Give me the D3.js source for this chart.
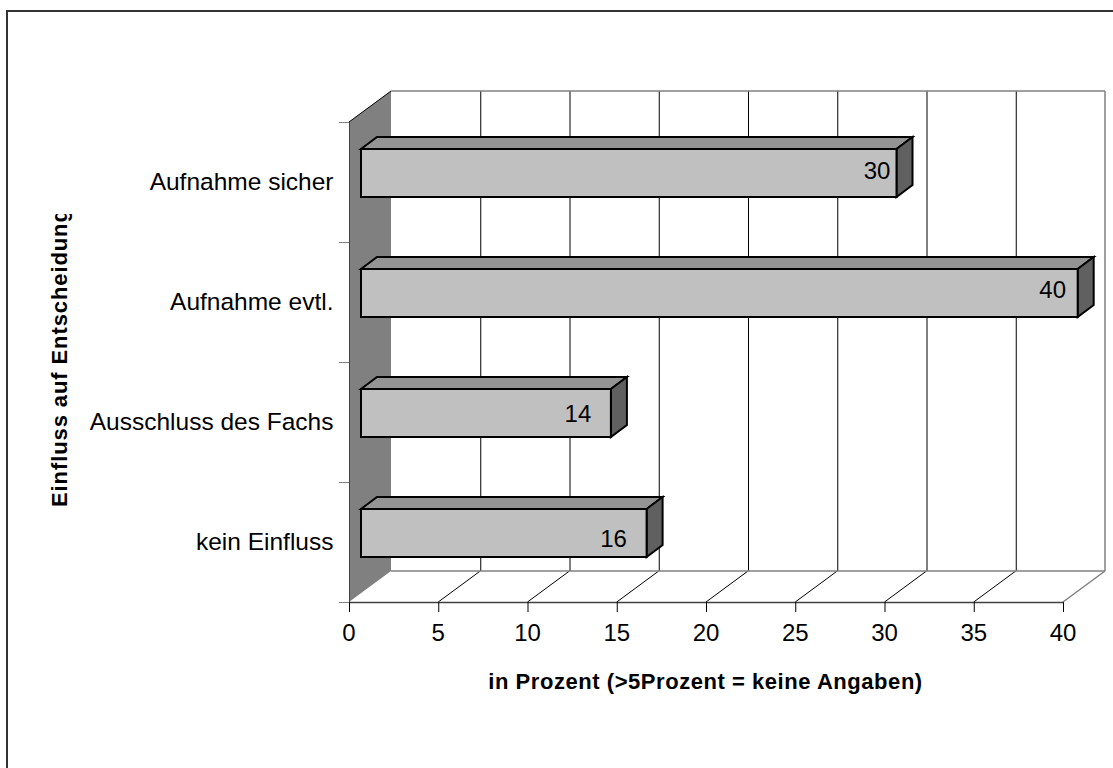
<!DOCTYPE html>
<html>
<head>
<meta charset="utf-8">
<script src="https://cdn.jsdelivr.net/npm/d3@7"></script>
<style>
    html, body { margin: 0; padding: 0; background: #fff; overflow: hidden; }
    svg { display: block; }
    text { font-family: "Liberation Sans", Arial, sans-serif; fill: #000; }
</style>
</head>
<body>
<svg id="chart" width="1113" height="768"></svg>
<script>
// Werte (der Balken "Aufnahme evtl." ist minimal laenger als 40)
const categories = ["Aufnahme sicher", "Aufnahme evtl.", "Ausschluss des Fachs", "kein Einfluss"];
const values = [30, 40.15, 14, 16];
const xTicks = [0, 5, 10, 15, 20, 25, 30, 35, 40];
const xTitle = "in Prozent (>5Prozent = keine Angaben)";
const yTitle = "Einfluss auf Entscheidung";

// Position der Balkenbeschriftung relativ zum Balkenende / zur Oberkante
const labelDx = [-19.5, -25, -33, -33];
const labelDy = [30, 29, 33, 38];

const svg = d3.select("#chart");

// Vorderkante des Diagramms und 3D-Versatz
const x = d3.scaleLinear().domain([0, 40]).range([349, 1063]);
const y = d3.scaleBand().domain(categories).range([122, 602]);
const depthX = 42, depthY = -31;
const barFrontX = 12, barFrontY = -9, barBackX = 28, barBackY = -21;
const barHeight = 48;
const yBottom = y.range()[1], yTop = y.range()[0];

// Rahmen (nur oben und links sichtbar)
svg.append("path")
    .attr("d", "M7,768V11H1113")
    .attr("fill", "none").attr("stroke", "#333").attr("stroke-width", 2);

// Seitenwand
svg.append("polygon")
    .attr("points", [
        [x(0), yTop], [x(0) + depthX, yTop + depthY],
        [x(0) + depthX, yBottom + depthY], [x(0), yBottom]
    ].join(" "))
    .attr("fill", "#808080");

// Gitterlinien Rueckwand
svg.append("g").selectAll("line")
    .data(xTicks.slice(1, -1))
    .enter().append("line")
    .attr("x1", d => x(d) + depthX + 0.5).attr("x2", d => x(d) + depthX + 0.5)
    .attr("y1", yTop + depthY).attr("y2", yBottom + depthY)
    .attr("stroke", "#000");

// Bodenlinien
svg.append("g").selectAll("line")
    .data(xTicks.slice(1, -1))
    .enter().append("line")
    .attr("x1", d => x(d)).attr("x2", d => x(d) + depthX)
    .attr("y1", yBottom).attr("y2", yBottom + depthY)
    .attr("stroke", "#000");

// graue Kanten der Rueckwand
const gray = "#808080";
const edges = [
    [x(0) + depthX, yTop + depthY, x(40) + depthX, yTop + depthY],
    [x(0) + depthX, yBottom + depthY, x(40) + depthX, yBottom + depthY],
    [x(40) + depthX, yTop + depthY, x(40) + depthX, yBottom + depthY],
    [x(40), yBottom, x(40) + depthX, yBottom + depthY]
];
svg.append("g").selectAll("line")
    .data(edges)
    .enter().append("line")
    .attr("x1", d => d[0]).attr("y1", d => d[1])
    .attr("x2", d => d[2]).attr("y2", d => d[3])
    .attr("stroke", gray).attr("stroke-width", 1.5);

// obere Kante der Seitenwand
svg.append("line")
    .attr("x1", x(0)).attr("y1", yTop)
    .attr("x2", x(0) + depthX).attr("y2", yTop + depthY)
    .attr("stroke", "#000");

// Y-Achse
const yAxisG = svg.append("g");
yAxisG.append("line")
    .attr("x1", x(0) + 0.5).attr("x2", x(0) + 0.5)
    .attr("y1", yTop).attr("y2", yBottom)
    .attr("stroke", "#404040");
yAxisG.selectAll("line.tick")
    .data(categories.concat([null]))
    .enter().append("line")
    .attr("class", "tick")
    .attr("x1", x(0) - 10).attr("x2", x(0))
    .attr("y1", d => (d === null ? yBottom : y(d)) + 0.5)
    .attr("y2", d => (d === null ? yBottom : y(d)) + 0.5)
    .attr("stroke", gray);
yAxisG.selectAll("text")
    .data(categories)
    .enter().append("text")
    .attr("x", 333.5)
    .attr("y", d => y(d) + y.bandwidth() / 2 + 8)
    .attr("text-anchor", "end")
    .style("font-size", "24.5px")
    .text(d => d);

// X-Achse
const xAxisG = svg.append("g");
xAxisG.append("line")
    .attr("x1", x(0)).attr("x2", x(40))
    .attr("y1", yBottom + 0.5).attr("y2", yBottom + 0.5)
    .attr("stroke", "#404040").attr("stroke-width", 1.5);
xAxisG.selectAll("line.tick")
    .data(xTicks)
    .enter().append("line")
    .attr("class", "tick")
    .attr("x1", d => x(d) + 0.5).attr("x2", d => x(d) + 0.5)
    .attr("y1", yBottom).attr("y2", yBottom + 10)
    .attr("stroke", "#000");
xAxisG.selectAll("text")
    .data(xTicks)
    .enter().append("text")
    .attr("x", d => x(d))
    .attr("y", 641)
    .attr("text-anchor", "middle")
    .style("font-size", "24px")
    .text(d => d);

// Balken: Deckel, Seite, Front
const bars = svg.append("g").selectAll("g")
    .data(categories)
    .enter().append("g");

function barTop(d) {
    return y(d) + y.bandwidth() / 2 + barFrontY - barHeight / 2;
}
function barLen(i) {
    return x(values[i]) - x(0);
}
const dx = barBackX - barFrontX, dy = barBackY - barFrontY;

bars.append("polygon")
    .attr("points", (d, i) => {
        const l = x(0) + barFrontX, r = l + barLen(i), t = barTop(d);
        return [[l, t], [l + dx, t + dy], [r + dx, t + dy], [r, t]].join(" ");
    })
    .attr("fill", "#949494").attr("stroke", "#000").attr("stroke-width", 2);
bars.append("polygon")
    .attr("points", (d, i) => {
        const r = x(0) + barFrontX + barLen(i), t = barTop(d);
        return [[r, t], [r + dx, t + dy], [r + dx, t + dy + barHeight], [r, t + barHeight]].join(" ");
    })
    .attr("fill", "#606060").attr("stroke", "#000").attr("stroke-width", 2);
bars.append("rect")
    .attr("x", x(0) + barFrontX)
    .attr("y", d => barTop(d))
    .attr("width", (d, i) => barLen(i))
    .attr("height", barHeight)
    .attr("fill", "#c0c0c0").attr("stroke", "#000").attr("stroke-width", 2);
bars.append("text")
    .attr("x", (d, i) => x(0) + barFrontX + barLen(i) + labelDx[i])
    .attr("y", (d, i) => barTop(d) + labelDy[i])
    .attr("text-anchor", "middle")
    .style("font-size", "24px")
    .text((d, i) => Math.round(values[i]));

// Achsentitel
svg.append("text")
    .attr("x", 705.5).attr("y", 689)
    .attr("text-anchor", "middle")
    .style("font-size", "22px").style("font-weight", "bold")
    .style("letter-spacing", "0.55px")
    .text(xTitle);

svg.append("clipPath").attr("id", "yTitleClip")
    .append("rect").attr("x", 40).attr("y", 214).attr("width", 40).attr("height", 300);
svg.append("g").attr("clip-path", "url(#yTitleClip)")
    .append("text")
    .attr("transform", "translate(67,507) rotate(-90)")
    .style("font-size", "22px").style("font-weight", "bold")
    .style("letter-spacing", "0.9px")
    .text(yTitle);
</script>
</body>
</html>
